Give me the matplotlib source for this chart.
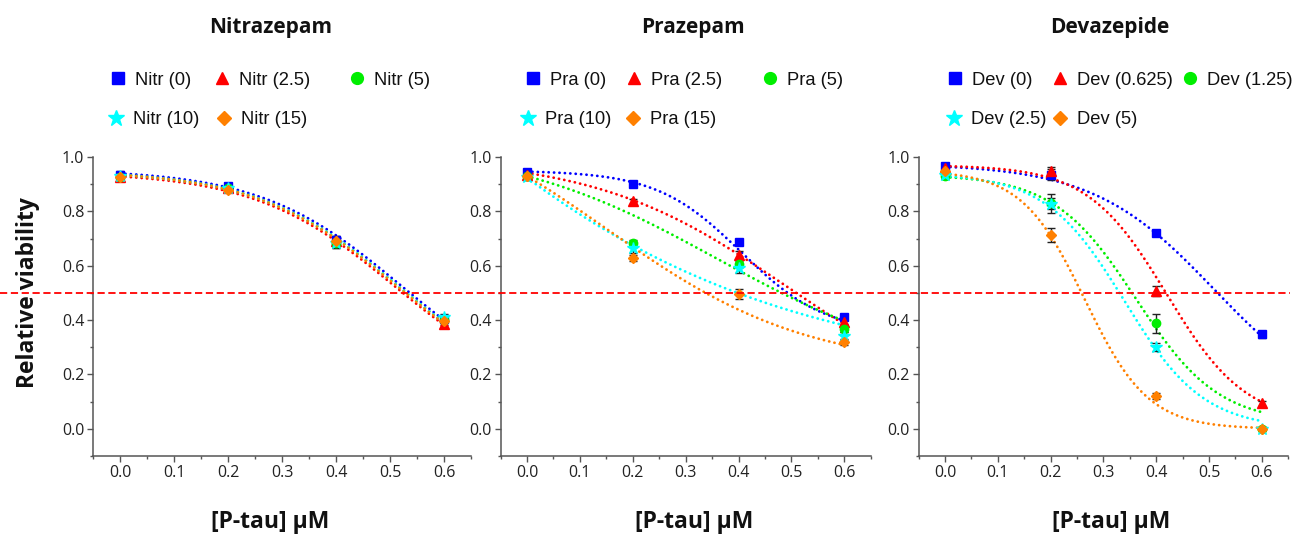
import matplotlib
matplotlib.use("Agg")
import matplotlib.pyplot as plt
import numpy as np
from matplotlib.lines import Line2D
from matplotlib import transforms
from matplotlib.ticker import MultipleLocator

# concentrations of P-tau (uM)
conc = [0.0, 0.2, 0.4, 0.6]
threshold = 0.5

titles = ['Nitrazepam', 'Prazepam', 'Devazepide']
prefixes = ['Nitr', 'Pra', 'Dev']
doses = [['0', '2.5', '5', '10', '15'],
         ['0', '2.5', '5', '10', '15'],
         ['0', '0.625', '1.25', '2.5', '5']]

colors = ['#0000FF', '#FF0000', '#00EE00', '#00FFFF', '#FF8000']
markers = ['s', '^', 'o', '*', 'D']

# mean relative viability, one row per dose
nitr_mean = [[0.935, 0.895, 0.695, 0.405],
             [0.925, 0.885, 0.690, 0.385],
             [0.925, 0.885, 0.685, 0.400],
             [0.930, 0.885, 0.685, 0.410],
             [0.925, 0.880, 0.690, 0.395]]
nitr_err = [[0.012, 0.010, 0.015, 0.012],
            [0.012, 0.010, 0.020, 0.012],
            [0.012, 0.010, 0.020, 0.012],
            [0.012, 0.010, 0.020, 0.012],
            [0.012, 0.010, 0.015, 0.012]]

pra_mean = [[0.943, 0.902, 0.688, 0.410],
            [0.935, 0.837, 0.641, 0.394],
            [0.930, 0.684, 0.606, 0.367],
            [0.925, 0.665, 0.590, 0.343],
            [0.930, 0.629, 0.496, 0.318]]
pra_err = [[0.012, 0.006, 0.008, 0.010],
           [0.010, 0.010, 0.015, 0.010],
           [0.010, 0.012, 0.012, 0.010],
           [0.010, 0.020, 0.015, 0.012],
           [0.010, 0.012, 0.018, 0.010]]

dev_mean = [[0.966, 0.935, 0.720, 0.347],
            [0.960, 0.948, 0.507, 0.094],
            [0.930, 0.830, 0.389, 0.000],
            [0.935, 0.828, 0.300, 0.000],
            [0.948, 0.712, 0.120, 0.000]]
dev_err = [[0.008, 0.020, 0.008, 0.012],
           [0.008, 0.015, 0.020, 0.010],
           [0.010, 0.035, 0.035, 0.005],
           [0.010, 0.020, 0.015, 0.005],
           [0.010, 0.025, 0.012, 0.005]]

# Boltzmann fit parameters: top, bottom, x0, dx
nitr_fit = [[0.955, 0.10, 0.520, 0.13],
            [0.945, 0.10, 0.510, 0.13],
            [0.950, 0.10, 0.515, 0.13],
            [0.950, 0.10, 0.515, 0.13],
            [0.950, 0.10, 0.513, 0.13]]
pra_fit = [[0.95, 0.35, 0.405, 0.08],
           [1.00, 0.05, 0.490, 0.18],
           [1.05, 0.20, 0.360, 0.20],
           [3.52, 0.18, -0.50, 0.40],
           [1.252, 0.22, 0.150, 0.19]]
dev_fit = [[0.975, 0.05, 0.510, 0.115],
           [0.970, 0.02, 0.420, 0.075],
           [0.935, 0.02, 0.362, 0.078],
           [0.940, 0.00, 0.340, 0.075],
           [0.950, 0.00, 0.265, 0.060]]

all_mean = [nitr_mean, pra_mean, dev_mean]
all_err = [nitr_err, pra_err, dev_err]
all_fit = [nitr_fit, pra_fit, dev_fit]

W, H = 1302, 537
fig = plt.figure(figsize=(W / 100, H / 100), dpi=100)

# panel extents in pixels (left, right), shared top/bottom
panels_px = [(93, 471), (500.5, 870.8), (918.6, 1288.2)]
top_px, bot_px = 157, 456
title_x = [271, 693, 1110]
xlabel_x = [270, 694, 1111]

# legend marker centres (x px) per panel: row 1 then row 2
leg_x = [[118, 222, 357, 116, 224],
         [533, 634, 770, 528, 633],
         [955, 1060, 1190, 954, 1060]]
leg_y = [80, 80, 80, 120, 120]

axis_col = '#555555'
text_col = '#222222'
marker_sz = [5.5, 6.5, 6, 9, 5]
leg_marker_sz = [8, 9, 8.5, 12, 7.5]


def boltzmann(x, top, bottom, x0, dx):
    return bottom + (top - bottom) / (1 + np.exp((x - x0) / dx))


axes = []
for i in range(3):
    l, r = panels_px[i]
    ax = fig.add_axes([l / W, 1 - bot_px / H, (r - l) / W, (bot_px - top_px) / H])
    axes.append(ax)

    x_fit = np.linspace(conc[0], conc[-1], 200)
    for j in range(5):
        p = all_fit[i][j]
        ax.plot(x_fit, boltzmann(x_fit, *p), color=colors[j], lw=2.0,
                ls=(0, (0.05, 1.9)), dash_capstyle='round', zorder=2)
    for j in range(5):
        ax.errorbar(conc, all_mean[i][j], yerr=all_err[i][j], fmt='none',
                    ecolor='#222222', elinewidth=1.0, capsize=3, capthick=1.0, zorder=3)
        ax.plot(conc, all_mean[i][j], ls='none', marker=markers[j],
                ms=marker_sz[j], color=colors[j], mec=colors[j], zorder=4)

    ax.set_xlim(-0.05, 0.65)
    ax.set_ylim(-0.1, 1.0)
    ax.xaxis.set_major_locator(MultipleLocator(0.1))
    ax.xaxis.set_minor_locator(MultipleLocator(0.05))
    ax.yaxis.set_major_locator(MultipleLocator(0.2))
    ax.yaxis.set_minor_locator(MultipleLocator(0.1))
    ax.set_xticks(np.arange(0, 0.61, 0.1))
    ax.set_xticklabels(['%.1f' % v for v in np.arange(0, 0.61, 0.1)])
    ax.set_yticks(np.arange(0, 1.01, 0.2))
    ax.set_yticklabels(['%.1f' % v for v in np.arange(0, 1.01, 0.2)])
    for s in ['top', 'right']:
        ax.spines[s].set_visible(False)
    for s in ['left', 'bottom']:
        ax.spines[s].set_color(axis_col)
        ax.spines[s].set_linewidth(1.1)
    ax.tick_params(which='major', length=4.2, width=1.0, color=axis_col,
                   labelsize=11.5, labelcolor=text_col, pad=2)
    ax.tick_params(which='minor', length=2.5, width=1.0, color=axis_col)
    for lab in ax.get_xticklabels() + ax.get_yticklabels():
        lab.set_family('Open Sans')
    ax.patch.set_alpha(0)

    fig.text(title_x[i] / W, 1 - 27 / H, titles[i], ha='center', va='center',
             fontsize=15, fontweight='bold', family='Open Sans', color='#111111')
    fig.text(xlabel_x[i] / W, 1 - 522 / H, '[P-tau] \u00b5M', ha='center', va='center',
             fontsize=16.5, fontweight='bold', family='Open Sans', color='#111111')

    # legend entries placed one by one
    fs = 13.2
    for j in range(5):
        h = Line2D([], [], ls='none', marker=markers[j], ms=leg_marker_sz[j],
                   color=colors[j], mec=colors[j])
        lab = '%s (%s)' % (prefixes[i], doses[i][j])
        hl = 1.0
        left = leg_x[i][j] - hl * fs * 1.389 / 2
        leg = fig.legend(handles=[h], labels=[lab], loc='center left',
                         bbox_to_anchor=(left / W, 1 - leg_y[j] / H),
                         frameon=False, borderpad=0, borderaxespad=0,
                         handlelength=hl, handletextpad=0.45,
                         prop={'family': 'Liberation Sans', 'size': fs})
        for t in leg.get_texts():
            t.set_color('#111111')

fig.text(28 / W, 1 - 293 / H, 'Relative viability', rotation=90, ha='center', va='center',
         fontsize=16.5, fontweight='bold', family='Open Sans', color='#111111')

# 50% viability reference line spanning the whole figure
trans = transforms.blended_transform_factory(fig.transFigure, axes[0].transData)
fig.add_artist(Line2D([0.0, 1290 / W], [threshold, threshold], transform=trans,
                      color='#FF0000', lw=1.3, ls=(0, (4, 2))))

fig.savefig('out.png', dpi=100)
